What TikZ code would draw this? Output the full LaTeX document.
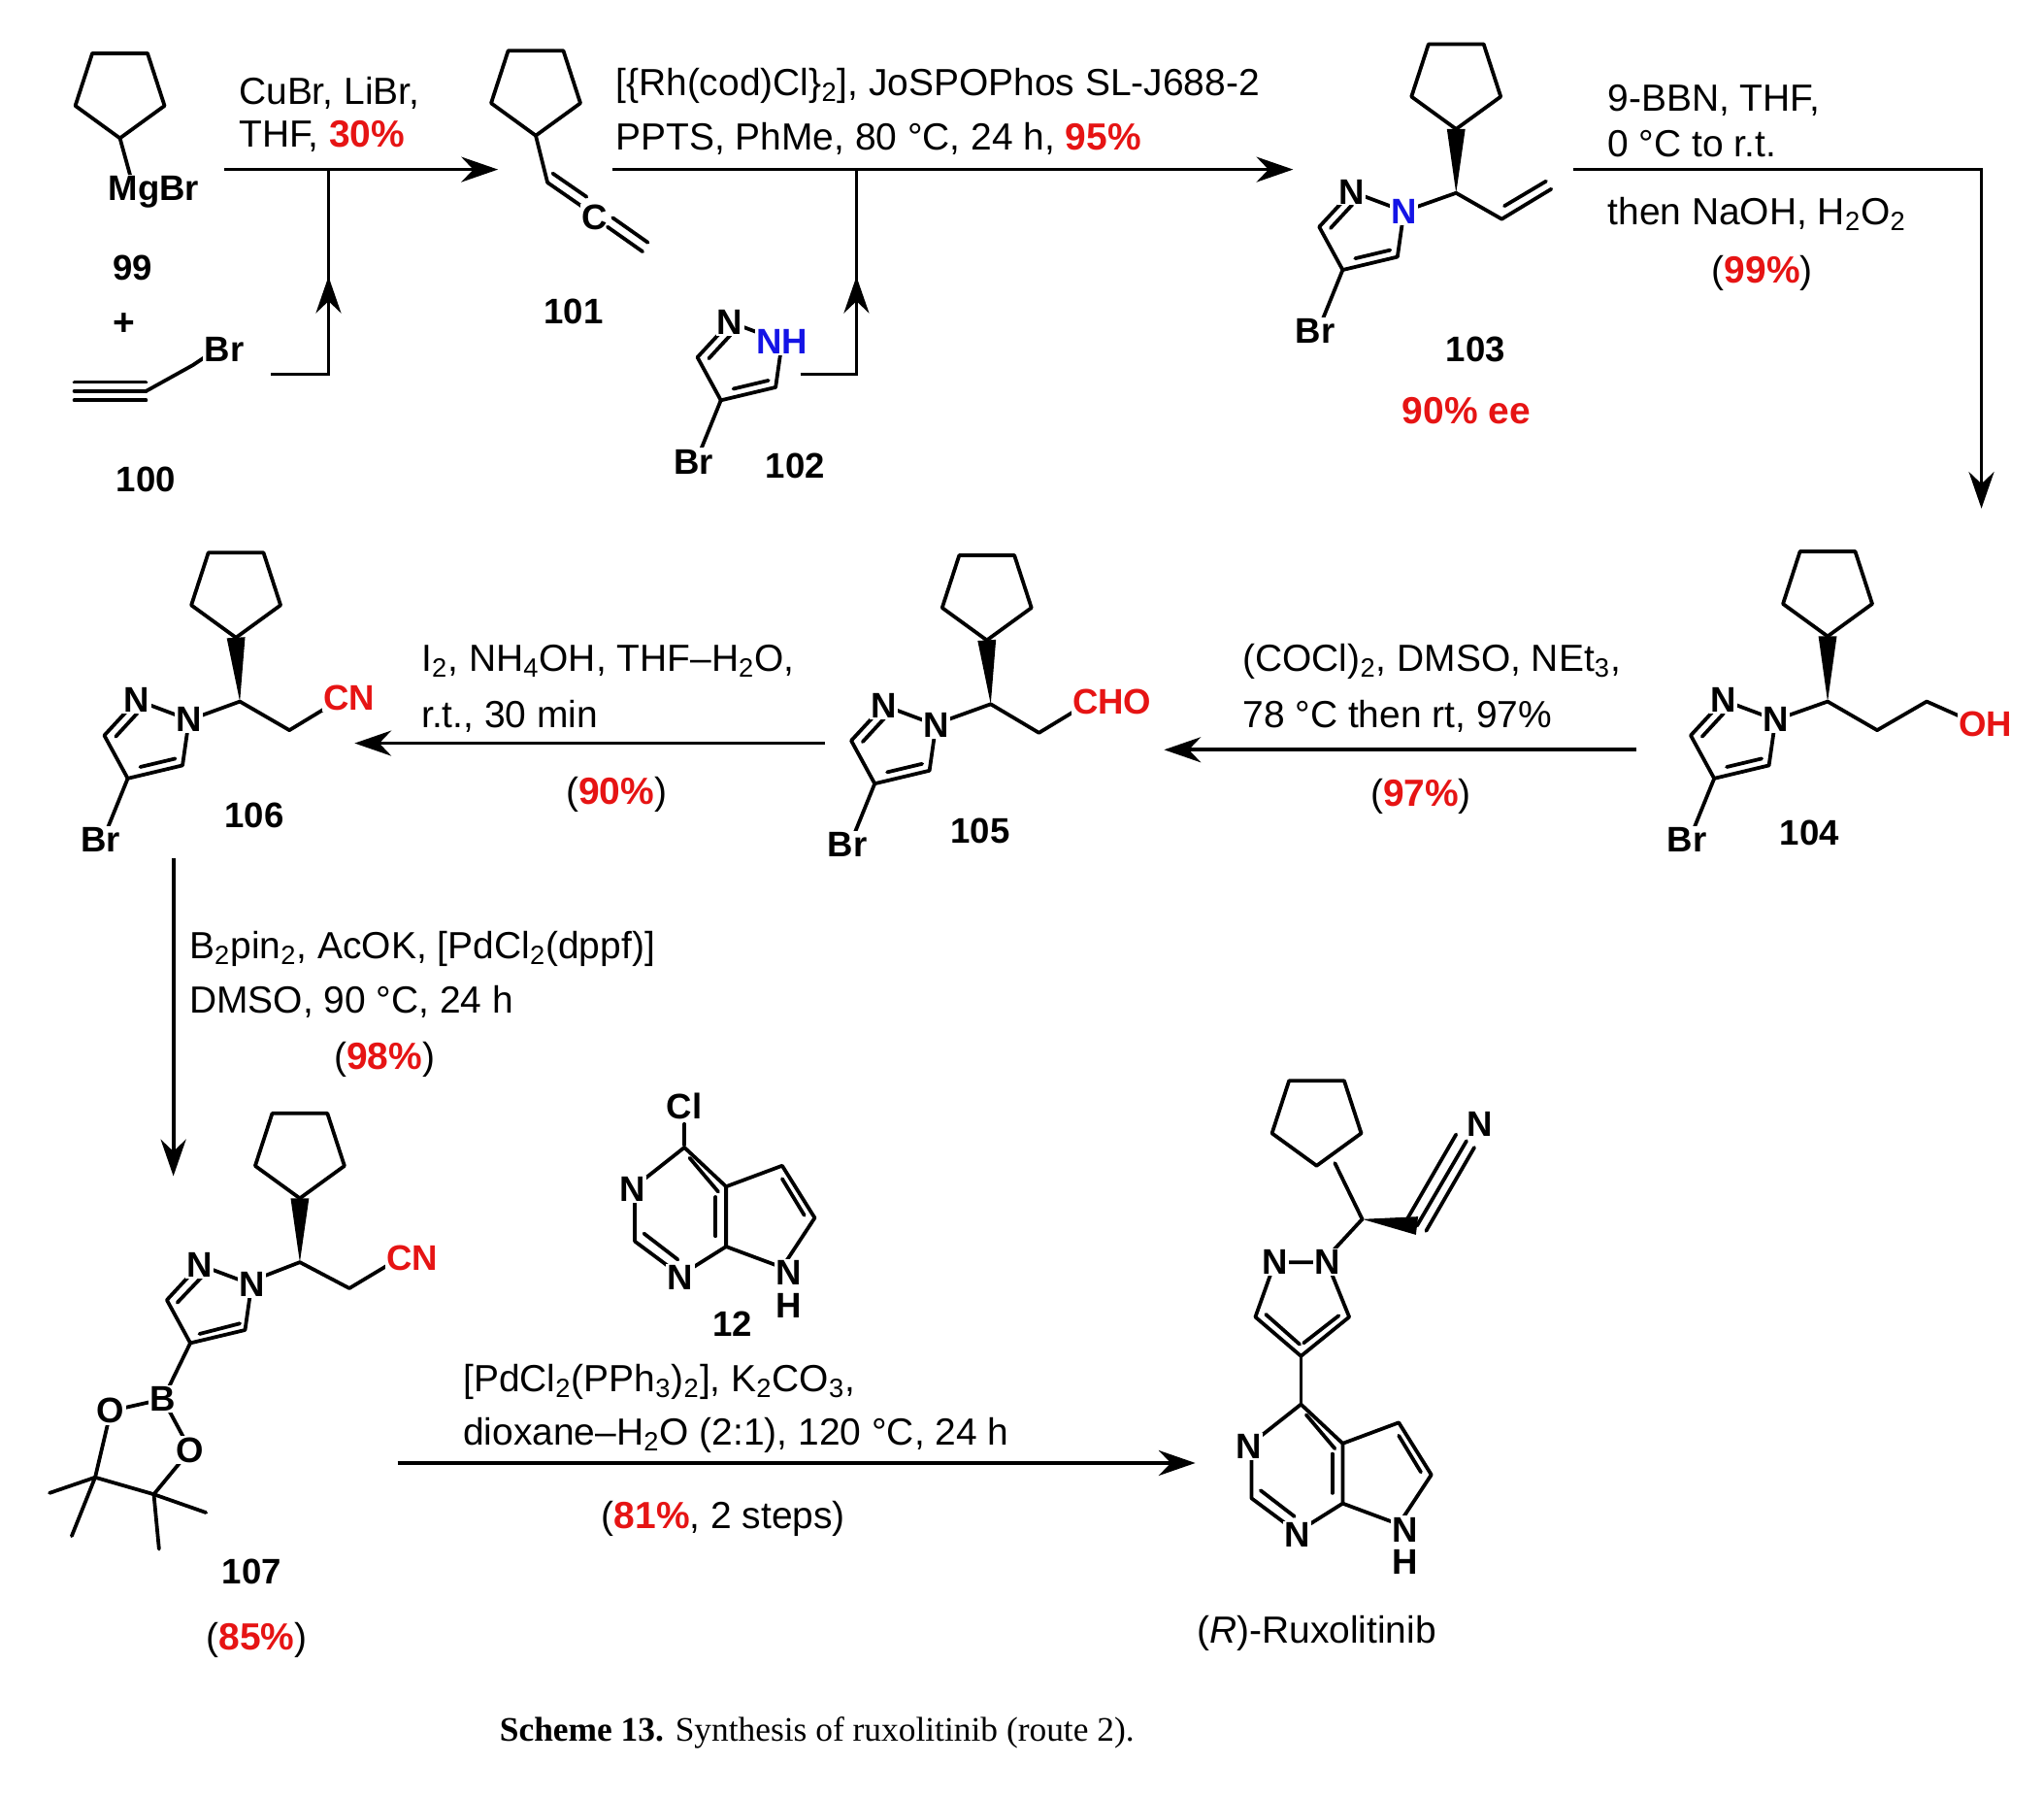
\documentclass[tikz,border=0pt]{standalone}
\usepackage{fontspec}
\setmainfont{Liberation Sans}
\newfontfamily\capfont{Liberation Serif}
\usetikzlibrary{calc,arrows.meta}
\definecolor{rd}{RGB}{230,20,20}
\definecolor{bl}{RGB}{20,20,230}
\newcommand{\R}[1]{\textcolor{rd}{\textbf{#1}}}
\newcommand{\sbs}[1]{\textsubscript{#1}}
\newcommand{\cpent}[3]{\draw[bond,shift={(#1,#2)}] (90:#3)--(162:#3)--(234:#3)--(306:#3)--(18:#3)--cycle;}
\newcommand{\wdg}[2]{\fill ($#1$) -- ($#2!4pt!90:#1$) -- ($#2!4pt!-90:#1$) -- cycle;}
\newcommand{\pyrz}[4]{\begin{scope}[shift={(#1,#2)}]
 \draw[bond] (0,0)--(-40,-15)--(-65,12)--(-47,45)--(-5,35)--cycle;
 \draw[bond] ($(-40,-15)!.15!(-65,12)+(4,6)$)--($(-65,12)!.15!(-40,-15)+(5,5)$);
 \draw[bond] ($(-47,45)!.18!(-5,35)+(2,-7)$)--($(-5,35)!.18!(-47,45)+(2,-7)$);
 \draw[bond] (-47,45)--(-62,82);
 \node[atom] at (0,0) {#3};
 \node[atom] at (-40,-15) {N};
 \node[atom] at (-68,92) {Br};
 #4
\end{scope}}
\newcommand{\ppyr}[2]{\begin{scope}[shift={(#1,#2)}]
 \draw[bond] (0,0)--(-38,30)--(-38,72)--(-3,98)--(32,76)--(32,30)--cycle;
 \draw[bond] (32,30)--(75,14)--(100,54)--(75,92)--(32,76);
 \draw[bond] (4,8)--(26,34);
 \draw[bond] (-31,66)--(-5,86);
 \draw[bond] (75,24)--(92,52);
 \draw[bond] (24,38)--(24,68);
 \node[atom] at (-40,32) {N};
 \node[atom] at (-3,100) {N};
 \node[atom] at (80,96) {N};
 \node[atom] at (80,121) {H};
\end{scope}}
\tikzset{bond/.style={line width=1.6pt,line cap=round,line join=round},
 atom/.style={fill=white,inner sep=0.6pt,font=\fontsize{15.5}{18}\selectfont\bfseries},
 lab/.style={inner sep=0pt,anchor=base,font=\fontsize{15.5}{18}\selectfont\bfseries},
 txt/.style={inner sep=0pt,anchor=base,align=center},
 arr/.style={line width=1.6pt,-{Stealth[length=16pt,width=11pt]}}}
\begin{document}
\begin{tikzpicture}[x=0.02cm,y=-0.02cm,font=\fontsize{16.5}{19}\selectfont]
\useasboundingbox (0,0) rectangle (1568,1378);
\fill[white] (0,0) rectangle (1568,1378);
% ---- 99 ----
\cpent{92}{70}{36}
\draw[bond] (92,106)--(100,135);
\node[atom] (mg) at (118,147) {MgBr};
\node[lab] (n99) at (102,215) {99};
\node[txt] (plus) at (95,257) {\textbf{+}};
% 100
\draw[bond] (57,293)--(112,293) (57,300)--(112,300) (57,307)--(112,307);
\draw[bond] (112,300)--(148,280)--(160,272);
\node[atom] (br100) at (172,268) {Br};
\node[lab] (n100) at (112,377) {100};
% 101
\cpent{411}{68}{36}
\draw[bond] (411,104)--(420,140);
\draw[bond] (420,140)--(446,158) (424,133)--(450,151);
\node[atom] (c101) at (456,167) {C};
\draw[bond] (466,174)--(493,193) (470,167)--(497,186);
\node[lab] (n101) at (440,248) {101};
% 102
\pyrz{600}{262}{\textcolor{bl}{NH}}{}
\node[lab] (n102) at (610,367) {102};
% 103
\cpent{1117}{63}{36}
\wdg{(1117,148)}{(1117,99)}
\draw[bond] (1117,148)--(1083,160);
\draw[bond] (1117,148)--(1152,168)--(1190,145) (1154,158)--(1186,139);
\pyrz{1077}{162}{\textcolor{bl}{N}}{}
\node[lab] (n103) at (1132,277) {103};
\node[txt] (ee) at (1125,325) {\R{90\% ee}};
% 104
\cpent{1402}{452}{36}
\wdg{(1402,538)}{(1402,488)}
\draw[bond] (1402,538)--(1368,550);
\draw[bond] (1402,538)--(1440,560)--(1478,538)--(1505,550);
\pyrz{1362}{552}{N}{}
\node[atom] (oh) at (1523,555) {\textcolor{rd}{OH}};
\node[lab] (n104) at (1388,648) {104};
% 105
\cpent{757}{455}{36}
\wdg{(760,540)}{(757,491)}
\draw[bond] (760,540)--(724,553);
\draw[bond] (760,540)--(797,562)--(825,545);
\pyrz{718}{556}{N}{}
\node[atom] (cho) at (853,538) {\textcolor{rd}{CHO}};
\node[lab] (n105) at (752,647) {105};
% 106
\cpent{181}{453}{36}
\wdg{(184,538)}{(181,489)}
\draw[bond] (184,538)--(151,550);
\draw[bond] (184,538)--(222,560)--(250,543);
\pyrz{145}{552}{N}{}
\node[atom] (cn106) at (268,535) {\textcolor{rd}{CN}};
\node[lab] (n106) at (195,635) {106};
% 107
\cpent{230}{883}{36}
\wdg{(230,968)}{(230,919)}
\draw[bond] (230,968)--(199,980);
\draw[bond] (230,968)--(268,988)--(298,970);
\begin{scope}[shift={(193,985)}]
 \draw[bond] (0,0)--(-40,-15)--(-65,12)--(-47,45)--(-5,35)--cycle;
 \draw[bond] (-37,-7)--(-57,14);
 \draw[bond] (-40,38)--(-9,30);
 \draw[bond] (-47,45)--(-68,88);
\end{scope}
\draw[bond] (125,1073)--(85,1082)--(73,1133)--(118,1146)--(146,1112)--(125,1073);
\draw[bond] (73,1133)--(38,1145) (73,1133)--(55,1178) (118,1146)--(158,1160) (118,1146)--(122,1188);
\node[atom] at (193,985) {N};
\node[atom] at (153,970) {N};
\node[atom] at (125,1073) {B};
\node[atom] at (85,1082) {O};
\node[atom] at (146,1112) {O};
\node[atom] (cn107) at (316,965) {\textcolor{rd}{CN}};
\node[lab] (n107) at (193,1215) {107};
\node[txt] (y107) at (197,1265) {(\R{85\%})};
% 12
\draw[bond] (525,878)--(525,862);
\node[atom] (cl) at (525,848) {Cl};
\ppyr{525}{880}
\node[lab] (n12) at (562,1025) {12};
% Ruxolitinib
\cpent{1010}{858}{36}
\draw[bond] (1024,892)--(1045,935);
\wdg{(1045,935)}{(1087,940)}
\draw[bond] (1087,940)--(1125,875);
\draw[bond] (1080,934)--(1117,870) (1094,944)--(1131,880);
\draw[bond] (1045,935)--(1020,962);
\draw[bond] (1018,968)--(978,968)--(963,1010)--(998,1040)--(1035,1010)--cycle;
\draw[bond] (971,1008)--(997,1031);
\draw[bond] (1000,1030)--(1027,1009);
\draw[bond] (998,1040)--(998,1077);
\node[atom] at (1018,968) {N};
\node[atom] at (978,968) {N};
\node[atom] (nn) at (1135,862) {N};
\ppyr{998}{1077}
\node[txt] (rux) at (1010,1260) {(\textit{R})-Ruxolitinib};
% ---- arrows ----
\coordinate (a1s) at (172,130); \coordinate (a1e) at (382,130);
\draw[arr] (a1s)--(a1e);
\coordinate (b1) at (208,287); \coordinate (b2) at (252,287); \coordinate (b3) at (252,130);
\draw[line width=1.6pt] (b1)--(b2)--(b3);
\draw[arr] (b2)--(252,212);
\coordinate (a2s) at (470,130); \coordinate (a2e) at (992,130);
\draw[arr] (a2s)--(a2e);
\coordinate (c1) at (614,287); \coordinate (c2) at (657,287); \coordinate (c3) at (657,130);
\draw[line width=1.6pt] (c1)--(c2)--(c3);
\draw[arr] (c2)--(657,212);
\coordinate (d1) at (1207,130); \coordinate (d2) at (1520,130); \coordinate (d3) at (1520,390);
\draw[arr] (d1)--(d2)--(d3);
\coordinate (e1) at (1255,575); \coordinate (e2) at (893,575);
\draw[arr] (e1)--(e2);
\coordinate (f1) at (633,570); \coordinate (f2) at (272,570);
\draw[arr] (f1)--(f2);
\coordinate (g1) at (133,658); \coordinate (g2) at (133,902);
\draw[arr] (g1)--(g2);
\coordinate (h1) at (305,1122); \coordinate (h2) at (917,1122);
\draw[arr] (h1)--(h2);
% ---- conditions ----
\node[txt,anchor=base west] (t1) at (183,80) {CuBr, LiBr,};
\node[txt,anchor=base west] (t2) at (183,113) {THF, \R{30\%}};
\node[txt,anchor=base west] (t3) at (472,73) {[\{Rh(cod)Cl\}\sbs{2}], JoSPOPhos SL-J688-2};
\node[txt,anchor=base west] (t4) at (472,115) {PPTS, PhMe, 80 °C, 24 h, \R{95\%}};
\node[txt,anchor=base west] (t5) at (1233,85) {9-BBN, THF,};
\node[txt,anchor=base west] (t6) at (1233,120) {0 °C to r.t.};
\node[txt,anchor=base west] (t7) at (1233,172) {then NaOH, H\sbs{2}O\sbs{2}};
\node[txt] (t8) at (1352,217) {(\R{99\%})};
\node[txt,anchor=base west] (t9) at (953,515) {(COCl)\sbs{2}, DMSO, NEt\sbs{3},};
\node[txt,anchor=base west] (t10) at (953,558) {78 °C then rt, 97\%};
\node[txt] (t11) at (1090,618) {(\R{97\%})};
\node[txt,anchor=base west] (t12) at (323,515) {I\sbs{2}, NH\sbs{4}OH, THF--H\sbs{2}O,};
\node[txt,anchor=base west] (t13) at (323,558) {r.t., 30 min};
\node[txt] (t14) at (473,617) {(\R{90\%})};
\node[txt,anchor=base west] (t15) at (145,735) {B\sbs{2}pin\sbs{2}, AcOK, [PdCl\sbs{2}(dppf)]};
\node[txt,anchor=base west] (t16) at (145,777) {DMSO, 90 °C, 24 h};
\node[txt] (t17) at (295,820) {(\R{98\%})};
\node[txt,anchor=base west] (t18) at (355,1067) {[PdCl\sbs{2}(PPh\sbs{3})\sbs{2}], K\sbs{2}CO\sbs{3},};
\node[txt,anchor=base west] (t19) at (355,1108) {dioxane--H\sbs{2}O (2:1), 120 °C, 24 h};
\node[txt] (t20) at (555,1172) {(\R{81\%}, 2 steps)};
\node[txt,anchor=base west,font=\capfont\fontsize{15}{18}\selectfont] (cap) at (383,1335) {\textbf{Scheme 13.} Synthesis of ruxolitinib (route 2).};
\end{tikzpicture}
\end{document}
